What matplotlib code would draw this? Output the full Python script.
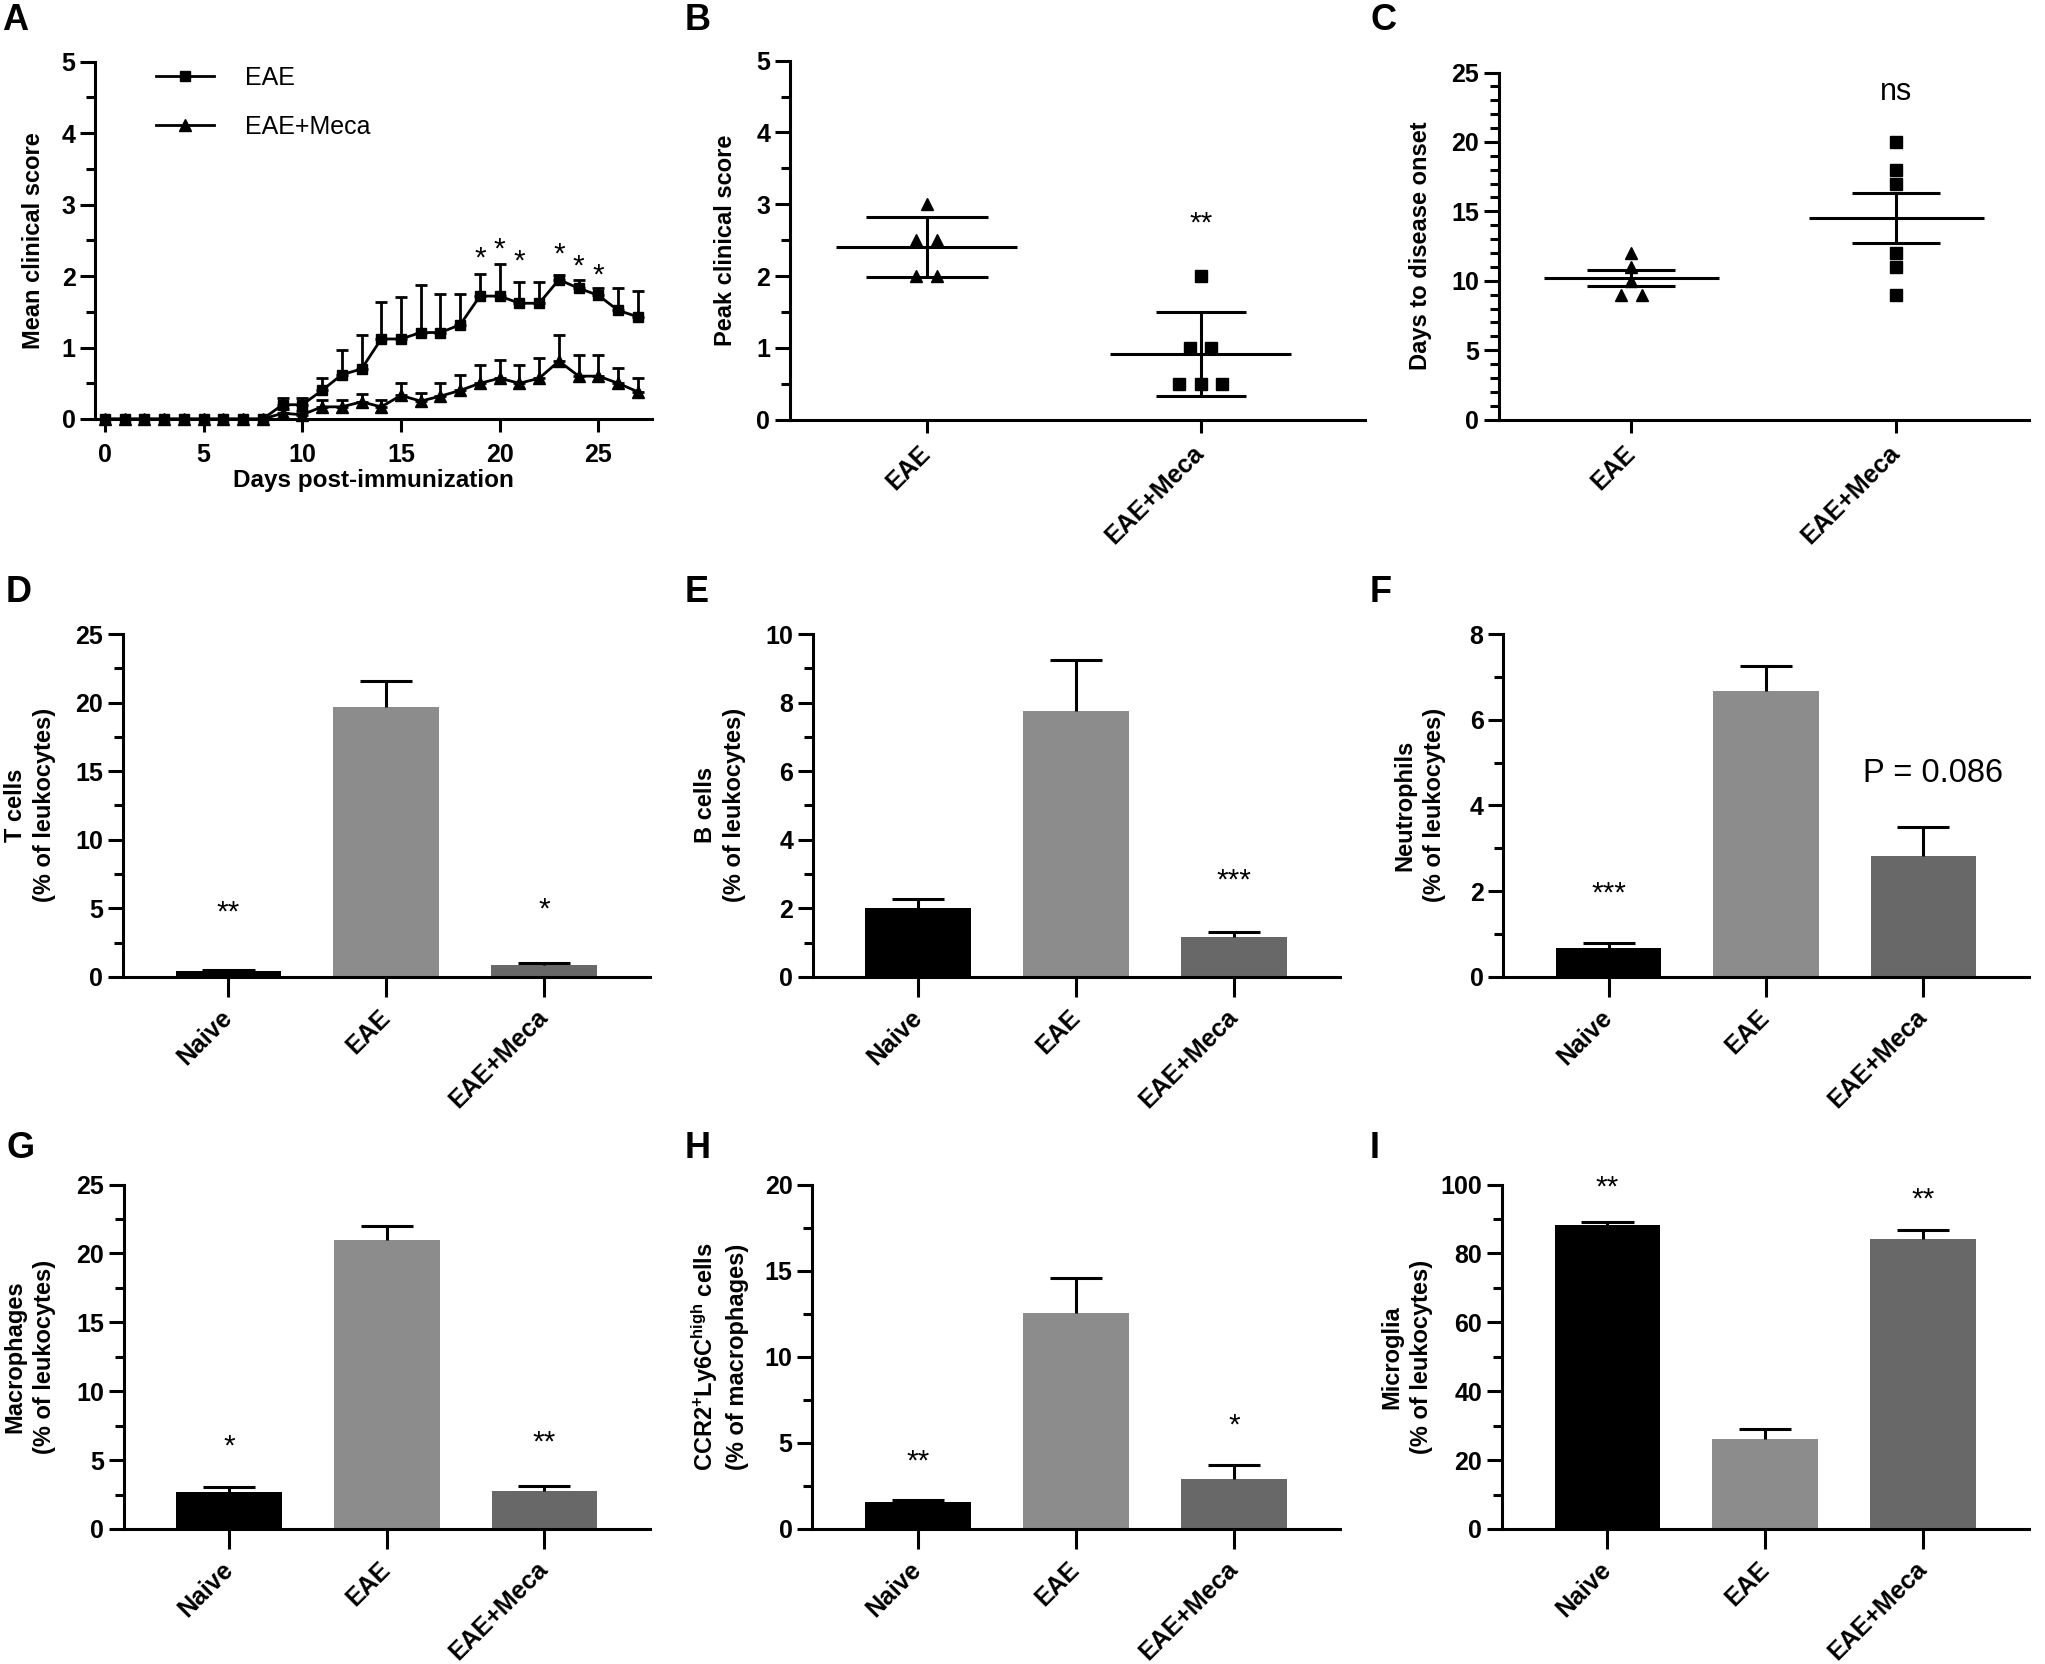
import numpy as np
import matplotlib
matplotlib.use("Agg")
import matplotlib.pyplot as plt
from matplotlib.lines import Line2D
from matplotlib.ticker import MultipleLocator

plt.rcParams['font.family'] = ['Liberation Sans', 'DejaVu Sans']
plt.rcParams['mathtext.fontset'] = 'custom'
plt.rcParams['mathtext.rm'] = 'Liberation Sans:bold'
plt.rcParams['mathtext.bf'] = 'Liberation Sans:bold'
plt.rcParams['mathtext.it'] = 'Liberation Sans:bold'

# ---- data ----
days = list(range(28))
eae_score = [0, 0, 0, 0, 0, 0, 0, 0, 0, 0.2, 0.2, 0.4, 0.62, 0.7, 1.12, 1.12, 1.21, 1.21,
             1.32, 1.72, 1.72, 1.62, 1.62, 1.95, 1.83, 1.73, 1.52, 1.43]
eae_score_err = [0, 0, 0, 0, 0, 0, 0, 0, 0, 0.1, 0.1, 0.17, 0.35, 0.47, 0.52, 0.59, 0.66, 0.54,
                 0.43, 0.31, 0.45, 0.30, 0.30, 0.07, 0.12, 0.11, 0.32, 0.36]
meca_score = [0, 0, 0, 0, 0, 0, 0, 0, 0, 0.08, 0.06, 0.17, 0.17, 0.24, 0.17, 0.33, 0.25, 0.32,
              0.4, 0.5, 0.57, 0.5, 0.57, 0.81, 0.6, 0.6, 0.5, 0.38]
meca_score_err = [0, 0, 0, 0, 0, 0, 0, 0, 0, 0.06, 0.05, 0.1, 0.1, 0.11, 0.1, 0.17, 0.11, 0.18,
                  0.22, 0.26, 0.25, 0.26, 0.29, 0.37, 0.3, 0.3, 0.21, 0.19]
star_days = [19, 20, 21, 23, 24, 25]
star_levels = [2.38, 2.5, 2.33, 2.43, 2.26, 2.14]

peak_eae = [3, 2.5, 2.5, 2, 2]
peak_meca = [2, 1, 1, 0.5, 0.5, 0.5]
onset_eae = [12, 11, 10, 9, 9]
onset_meca = [20, 18, 17, 12, 11, 9]

groups = ['Naive', 'EAE', 'EAE+Meca']
t_cells = [0.4, 19.7, 0.83]
t_cells_err = [0.13, 1.85, 0.21]
b_cells = [2.01, 7.76, 1.15]
b_cells_err = [0.25, 1.49, 0.15]
neutrophils = [0.67, 6.67, 2.81]
neutrophils_err = [0.11, 0.58, 0.69]
macrophages = [2.69, 21.0, 2.79]
macrophages_err = [0.34, 1.0, 0.31]
ccr2_cells = [1.55, 12.54, 2.91]
ccr2_cells_err = [0.16, 2.02, 0.78]
microglia = [88.2, 26.0, 84.3]
microglia_err = [0.9, 2.9, 2.4]

bar_colors = ['#000000', '#8c8c8c', '#686868']

W, H = 2045, 1664
fig = plt.figure(figsize=(W / 100, H / 100), dpi=100)

STAR = 21.5


def px_axes(left, top, right, bottom):
    return fig.add_axes([left / W, 1 - bottom / H, (right - left) / W, (bottom - top) / H])


def style(ax, ymax, major, minor, xlen=14.5):
    for s in ['top', 'right']:
        ax.spines[s].set_visible(False)
    for s in ['left', 'bottom']:
        ax.spines[s].set_linewidth(2.2)
    ax.set_ylim(0, ymax)
    ax.yaxis.set_major_locator(MultipleLocator(major))
    ax.yaxis.set_minor_locator(MultipleLocator(minor))
    ax.tick_params(axis='y', which='major', length=11, width=2.2, labelsize=18, pad=3)
    ax.tick_params(axis='y', which='minor', length=6.5, width=2.2)
    ax.tick_params(axis='x', which='major', length=xlen, width=2.2, labelsize=18, pad=12)
    ax.tick_params(axis='x', which='minor', length=0)
    for lab in ax.get_yticklabels():
        lab.set_fontweight('bold')


def ylabel(ax, x_px, text):
    bb = ax.get_position()
    fig.text(x_px / W, bb.y0 + bb.height / 2, text, rotation=90, ha='center', va='center',
             fontsize=17, fontweight='bold', linespacing=1.35, multialignment='center')


def star(ax, x, y, s, size=STAR):
    ax.annotate(s, (x, y), xytext=(0, -0.575 * size), textcoords='offset points',
                ha='center', va='baseline', fontsize=size, annotation_clip=False)


def letter(x_px, y_px, s):
    fig.text(x_px / W, 1 - y_px / H, s, ha='left', va='top', fontsize=26, fontweight='bold')


def cat_labels(ax, labels):
    ax.set_xticklabels(labels, rotation=45, ha='right', va='center',
                       rotation_mode='anchor', fontweight='bold', fontsize=18)


# ---- A: clinical score course ----
axA = px_axes(95, 61.7, 651.7, 419)
style(axA, 5, 1, 0.5, xlen=9.5)
axA.set_xlim(-0.5, 27.7)
axA.xaxis.set_major_locator(MultipleLocator(5))
axA.tick_params(axis='x', labelsize=18, pad=8)
for lab in axA.get_xticklabels():
    lab.set_fontweight('bold')
z = [0] * len(days)
axA.errorbar(days, eae_score, yerr=[z, eae_score_err], color='black', marker='s', ms=7.5,
             lw=2, elinewidth=2, capsize=4, capthick=2, clip_on=False, zorder=3)
axA.errorbar(days, meca_score, yerr=[z, meca_score_err], color='black', marker='^', ms=8.5,
             lw=2, elinewidth=2, capsize=4, capthick=2, clip_on=False, zorder=3)
for d, lv in zip(star_days, star_levels):
    star(axA, d, lv, '*')
axA.set_xlabel('Days post-immunization', fontsize=17.5, fontweight='bold', labelpad=1)
handles = [Line2D([], [], color='black', marker='s', ms=7.5, lw=2),
           Line2D([], [], color='black', marker='^', ms=8.5, lw=2)]
axA.legend(handles, ['EAE', 'EAE+Meca'], loc='upper left', bbox_to_anchor=(0.11, 0.988),
           frameon=False, fontsize=18, handlelength=2.3, handletextpad=1.25,
           labelspacing=1.0, borderaxespad=0, borderpad=0)
ylabel(axA, 34, 'Mean clinical score')

# ---- B: peak clinical score ----
axB = px_axes(789.6, 60.7, 1365, 419.6)
style(axB, 5, 1, 0.5, xlen=9.5)
axB.set_xlim(-0.5, 1.6)
axB.set_xticks([0, 1])
cat_labels(axB, ['EAE', 'EAE+Meca'])
b_off = [[0, -0.038, 0.038, -0.038, 0.038], [0, -0.039, 0.039, -0.078, 0, 0.078]]
b_cap = [43.9, 32.4]
for i, (vals, mk) in enumerate([(peak_eae, '^'), (peak_meca, 's')]):
    v = np.array(vals)
    m, sd = v.mean(), v.std(ddof=1)
    axB.plot(i + np.array(b_off[i]), v, ls='none', marker=mk, color='black',
             ms=9 if mk == '^' else 8)
    axB.hlines(m, i - 0.33, i + 0.33, color='black', lw=2.2)
    axB.errorbar([i], [m], yerr=[sd], fmt='none', ecolor='black', elinewidth=2.2,
                 capsize=b_cap[i], capthick=2.2)
star(axB, 1, 2.86, '**')
ylabel(axB, 725, 'Peak clinical score')

# ---- C: days to onset ----
axC = px_axes(1498.7, 72.5, 2029, 419.6)
style(axC, 25, 5, 1, xlen=9.5)
axC.set_xlim(-0.5, 1.5)
axC.set_xticks([0, 1])
cat_labels(axC, ['EAE', 'EAE+Meca'])
c_off = [[0, 0, 0, -0.04, 0.04], [0, 0, 0, 0, 0, 0]]
for i, (vals, mk) in enumerate([(onset_eae, '^'), (onset_meca, 's')]):
    v = np.array(vals)
    m, se = v.mean(), v.std(ddof=1) / np.sqrt(len(v))
    axC.plot(i + np.array(c_off[i]), v, ls='none', marker=mk, color='black',
             ms=9 if mk == '^' else 8)
    axC.hlines(m, i - 0.33, i + 0.33, color='black', lw=2.2)
    axC.errorbar([i], [m], yerr=[se], fmt='none', ecolor='black', elinewidth=2.2,
                 capsize=31.7, capthick=2.2)
axC.text(1, 23.6, 'ns', ha='center', va='center', fontsize=22)
ylabel(axC, 1421, 'Days to disease onset')


# ---- D-I: bar panels ----
def bar_panel(rect, means, errs, ymax, major, minor, label, label_x):
    ax = px_axes(*rect)
    style(ax, ymax, major, minor)
    ax.set_xlim(-0.67, 2.67)
    x = np.arange(len(groups))
    tops = np.array(means) + np.array(errs)
    ax.bar(x, means, width=0.67, color=bar_colors, linewidth=0)
    # upper-only error bars, cap at the top end only
    ax.vlines(x, means, tops, color='black', lw=2.2, clip_on=False)
    ax.hlines(tops, x - 0.165, x + 0.165, color='black', lw=2.2, clip_on=False)
    ax.set_xticks(x)
    cat_labels(ax, groups)
    ylabel(ax, label_x, label)
    return ax


axD = bar_panel((122.7, 634, 650, 976.8), t_cells, t_cells_err, 25, 5, 2.5,
                'T cells\n(% of leukocytes)', 30)
star(axD, 0, 5.34, '**')
star(axD, 2, 5.6, '*')

axE = bar_panel((812.6, 634, 1340, 976.8), b_cells, b_cells_err, 10, 2, 1,
                'B cells\n(% of leukocytes)', 720)
star(axE, 2, 3.07, '***')

axF = bar_panel((1503, 634, 2029, 976.8), neutrophils, neutrophils_err, 8, 2, 1,
                'Neutrophils\n(% of leukocytes)', 1420)
star(axF, 0, 2.15, '***')
axF.text(2.06, 4.75, 'P = 0.086', ha='center', va='center', fontsize=23.5)

axG = bar_panel((123.6, 1184.5, 650, 1529), macrophages, macrophages_err, 25, 5, 2.5,
                'Macrophages\n(% of leukocytes)', 30)
star(axG, 0, 6.63, '*')
star(axG, 2, 6.92, '**')

axH = bar_panel((812, 1184.5, 1340, 1529), ccr2_cells, ccr2_cells_err, 20, 5, 2.5,
                'CCR2$^{+}$Ly6C$^{\\mathbf{high}}$ cells\n(% of macrophages)', 719)
star(axH, 0, 4.43, '**')
star(axH, 2, 6.56, '*')

axI = bar_panel((1501.7, 1184.5, 2029, 1529), microglia, microglia_err, 100, 20, 10,
                'Microglia\n(% of leukocytes)', 1407)
star(axI, 0, 101.7, '**')
star(axI, 2, 98.3, '**')

# panel letters
for xp, yp, s in [(2, 3, 'A'), (685, 3, 'B'), (1370, 3, 'C'),
                  (6, 575, 'D'), (685, 575, 'E'), (1370, 575, 'F'),
                  (6, 1131, 'G'), (685, 1131, 'H'), (1370, 1131, 'I')]:
    letter(xp, yp, s)

fig.savefig('out.png', dpi=100)
